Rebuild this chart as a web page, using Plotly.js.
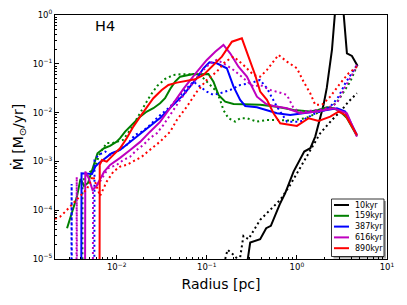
<!DOCTYPE html>
<html><head><meta charset="utf-8">
<script src="https://cdn.plot.ly/plotly-3.0.1.min.js"></script>
<style>html,body{margin:0;padding:0;background:#fff}</style>
</head><body><div id="chart" style="width:407px;height:305px"></div>
<script>
const snapshots = ['10kyr','159kyr','387kyr','616kyr','890kyr'];
const colors = ['#000000','#008000','#0000ff','#bf00bf','#ff0000'];

// 10 kyr
const r_10_solid = [0.27, 0.303, 0.391, 0.456, 0.514, 0.653, 0.742, 0.918, 1.206, 1.41, 1.598, 1.816, 1.977, 2.146, 2.287, 2.449, 2.95, 3.59, 4.08, 4.72];
const mdot_10_solid = [5e-6, 2.17e-5, 2.55e-5, 4.28e-5, 4.77e-5, 1.39e-4, 2.23e-4, 6.18e-4, 1.59e-3, 1.86e-3, 3.22e-3, 8.27e-3, 0.0145, 0.032, 0.0748, 0.192, 13, 0.164, 0.145, 0.0903];
const r_10_dot = [0.155, 0.170, 0.198, 0.231, 0.255, 0.290, 0.391, 0.653, 0.843, 1.185, 1.35, 1.816, 2.45, 3.03, 3.75, 4.64];
const mdot_10_dot = [8e-6, 1.54e-5, 1.22e-5, 9e-6, 2.98e-5, 2.55e-5, 6.33e-5, 1.63e-4, 3.3e-4, 9.5e-4, 1.5e-3, 3.78e-3, 7.07e-3, 0.0105, 0.0168, 0.0249];

// 159 kyr
const r_159_solid = [0.00281, 0.00319, 0.00362, 0.00396, 0.00434, 0.0048, 0.00546, 0.00612, 0.00723, 0.00843, 0.01, 0.0109, 0.0124, 0.0141, 0.0182, 0.0216, 0.0255, 0.0303, 0.0344, 0.0392, 0.0445, 0.0506, 0.06, 0.071, 0.0843, 0.1043, 0.1185, 0.1347, 0.16, 0.198, 0.255, 0.391, 0.6, 0.918, 1.406, 1.726, 2.157, 2.553, 3.03, 3.59, 4.64];
const mdot_159_solid = [4.28e-5, 9.37e-5, 1.9e-4, 4.38e-4, 3.15e-4, 3.62e-4, 7.36e-4, 1.47e-3, 1.86e-3, 2.08e-3, 2.54e-3, 2.99e-3, 4.07e-3, 5.16e-3, 8.27e-3, 0.0105, 0.0123, 0.0156, 0.0197, 0.0305, 0.0431, 0.0545, 0.059, 0.0619, 0.061, 0.0619, 0.0431, 0.023, 0.0168, 0.015, 0.0149, 0.0144, 0.0132, 0.0113, 0.0105, 0.0113, 0.0129, 0.0123, 0.0105, 7.78e-3, 3.33e-3];
const r_159_dot = [0.00415, 0.00417, 0.00456, 0.00506, 0.00575, 0.00653, 0.00775, 0.0091, 0.01175, 0.0141, 0.0164, 0.0191, 0.0234, 0.0281, 0.0344, 0.0426, 0.0506, 0.0653, 0.0775, 0.0918, 0.109, 0.129, 0.1406, 0.153, 0.174, 0.2065, 0.2345, 0.2785, 0.36, 0.465, 0.6, 0.843, 1.238, 1.816, 2.45, 2.90, 3.44, 3.91, 4.64];
const mdot_159_dot = [1e-9, 4.18e-4, 4.59e-4, 6.09e-4, 7.82e-4, 1.49e-3, 2.39e-3, 2.39e-3, 2.75e-3, 4.42e-3, 7.07e-3, 0.0113, 0.0219, 0.0352, 0.0489, 0.059, 0.0608, 0.0608, 0.059, 0.0506, 0.0368, 0.0269, 0.0182, 0.0113, 7.66e-3, 6.53e-3, 7.66e-3, 7.66e-3, 6.53e-3, 7.07e-3, 7.07e-3, 6.84e-3, 7.66e-3, 0.0105, 0.0132, 0.0182, 0.0291, 0.0431, 0.0903];

// 387 kyr
const r_387_solid = [0.0040, 0.00407, 0.00532, 0.00579, 0.00628, 0.00711, 0.00881, 0.0109, 0.0141, 0.0182, 0.0233, 0.0303, 0.0392, 0.055, 0.0775, 0.0918, 0.107, 0.129, 0.1668, 0.198, 0.2345, 0.267, 0.36, 0.6, 0.843, 1.185, 1.74, 2.157, 2.785, 3.44, 3.91, 4.64];
const mdot_387_solid = [1e-9, 5.73e-4, 5.54e-4, 7.82e-4, 9.1e-4, 1.07e-3, 1.47e-3, 1.72e-3, 2.51e-3, 3.66e-3, 5.08e-3, 7.78e-3, 0.0125, 0.023, 0.0506, 0.081, 0.1075, 0.1025, 0.081, 0.034, 0.0182, 0.0137, 0.0129, 9.7e-3, 8.96e-3, 9.7e-3, 0.0105, 0.0113, 0.0123, 0.0105, 6.53e-3, 3.49e-3];
const r_387_dot = [0.00311, 0.00316, 0.0032, 0.0056, 0.00567, 0.0063, 0.00748, 0.00843, 0.01, 0.0129, 0.016, 0.019, 0.0225, 0.029, 0.0392, 0.055, 0.071, 0.0843, 0.1, 0.1185, 0.1406, 0.1817, 0.2345, 0.303, 0.391, 0.465, 0.6, 0.775, 1.089, 1.598, 2.064, 2.45, 2.90, 3.44, 4.09, 4.64];
const mdot_387_dot = [1e-9, 3.46e-4, 1e-9, 1e-9, 1.07e-3, 1.36e-3, 1.59e-3, 1.36e-3, 1.59e-3, 2.18e-3, 3.49e-3, 4.07e-3, 5.16e-3, 8.27e-3, 0.0132, 0.0269, 0.0431, 0.034, 0.0269, 0.023, 0.0249, 0.0291, 0.0368, 0.0399, 0.0467, 0.0315, 0.0132, 6.53e-3, 6.53e-3, 9.7e-3, 0.0113, 0.0144, 0.0212, 0.0399, 0.064, 0.0946];

// 616 kyr
const r_616_solid = [0.0044, 0.00448, 0.00489, 0.00539, 0.00597, 0.00653, 0.00723, 0.00843, 0.0109, 0.0141, 0.0182, 0.0233, 0.0303, 0.0392, 0.055, 0.0775, 0.1, 0.124, 0.153, 0.1817, 0.2245, 0.2785, 0.36, 0.456, 0.55, 0.775, 1.089, 1.67, 2.553, 3.59, 4.64];
const mdot_616_solid = [1e-9, 6.18e-4, 4.53e-4, 2.61e-4, 3.15e-4, 4.18e-4, 6.09e-4, 8.48e-4, 1.18e-3, 1.72e-3, 2.51e-3, 4.02e-3, 6.44e-3, 0.0125, 0.0305, 0.068, 0.12, 0.177, 0.243, 0.164, 0.0873, 0.0545, 0.0212, 0.015, 0.0137, 0.0123, 9.7e-3, 0.0105, 0.0123, 9.7e-3, 3.22e-3];
const r_616_dot = [0.00354, 0.0036, 0.00366, 0.0054, 0.00546, 0.00653, 0.00807, 0.01, 0.01186, 0.0141, 0.01668, 0.0198, 0.0233, 0.0279, 0.033, 0.0392, 0.0506, 0.0653, 0.0843, 0.109, 0.129, 0.153, 0.198, 0.255, 0.33, 0.391, 0.506, 0.653, 0.775, 0.918, 1.089, 1.67, 2.157, 2.785, 3.44, 4.09, 4.64];
const mdot_616_dot = [1e-9, 4.81e-4, 1e-9, 1e-9, 2.61e-4, 3.86e-4, 7.26e-4, 8.48e-4, 1.07e-3, 1.25e-3, 1.72e-3, 2.18e-3, 2.99e-3, 3.78e-3, 5.59e-3, 8.96e-3, 0.0182, 0.034, 0.064, 0.1025, 0.12, 0.1025, 0.0748, 0.0506, 0.034, 0.0368, 0.0291, 0.0256, 0.023, 0.0123, 0.0103, 0.0113, 0.0123, 0.0156, 0.034, 0.059, 0.0946];

// 890 kyr
const r_890_solid = [0.0064, 0.00648, 0.00687, 0.00775, 0.00918, 0.0109, 0.0129, 0.0153, 0.0182, 0.0216, 0.0255, 0.0316, 0.0375, 0.0465, 0.06, 0.0742, 0.0918, 0.1138, 0.147, 0.19, 0.245, 0.290, 0.344, 0.391, 0.465, 0.55, 0.653, 1.0, 1.35, 1.74, 2.345, 2.90, 3.44, 4.64];
const mdot_890_solid = [1e-9, 8.48e-4, 1.07e-3, 9.9e-4, 1.36e-3, 1.86e-3, 2.99e-3, 5.16e-3, 8.27e-3, 0.0132, 0.0197, 0.0291, 0.0368, 0.0411, 0.0445, 0.0482, 0.059, 0.0873, 0.14, 0.284, 0.333, 0.14, 0.059, 0.0269, 0.0182, 9.7e-3, 6.05e-3, 5.33e-3, 7.66e-3, 6.75e-3, 8.27e-3, 0.0105, 8.96e-3, 3.49e-3];
const r_890_dot = [0.00207, 0.00236, 0.00269, 0.00305, 0.00353, 0.00412, 0.00468, 0.00509, 0.00546, 0.00653, 0.00775, 0.00918, 0.0109, 0.0129, 0.0153, 0.019, 0.0233, 0.0303, 0.0392, 0.0465, 0.06, 0.0775, 0.1, 0.129, 0.16, 0.198, 0.255, 0.33, 0.391, 0.465, 0.625, 0.775, 1.0, 1.185, 1.406, 1.598, 1.897, 2.345, 3.03, 3.75, 4.64];
const mdot_890_dot = [6.64e-5, 7.4e-5, 9.37e-5, 1.19e-4, 1.55e-4, 2.06e-4, 2.73e-4, 3.8e-4, 5.04e-4, 1.96e-4, 3.86e-4, 6.18e-4, 7.82e-4, 8.48e-4, 9.9e-4, 1.25e-3, 1.72e-3, 2.54e-3, 4.07e-3, 7.07e-3, 0.0132, 0.0269, 0.0467, 0.069, 0.1106, 0.14, 0.0946, 0.059, 0.0545, 0.0748, 0.152, 0.1106, 0.081, 0.0431, 0.0249, 0.0144, 0.0144, 0.0212, 0.0399, 0.064, 0.0873];

const xTickVals = [0.01, 0.1, 1, 10];
const xTickText = ['10<sup>\u22122</sup>', '10<sup>\u22121</sup>', '10<sup>0</sup>', '10<sup>1</sup>'];
const yTickVals = [1e-5, 1e-4, 1e-3, 1e-2, 1e-1, 1];
const yTickText = ['10<sup>\u22125</sup>', '10<sup>\u22124</sup>', '10<sup>\u22123</sup>', '10<sup>\u22122</sup>', '10<sup>\u22121</sup>', '10<sup>0</sup>'];
const panelLabel = 'H4';

const series = [
  [r_10_solid, mdot_10_solid, r_10_dot, mdot_10_dot],
  [r_159_solid, mdot_159_solid, r_159_dot, mdot_159_dot],
  [r_387_solid, mdot_387_solid, r_387_dot, mdot_387_dot],
  [r_616_solid, mdot_616_solid, r_616_dot, mdot_616_dot],
  [r_890_solid, mdot_890_solid, r_890_dot, mdot_890_dot]
];

const traces = [];
series.forEach((s, i) => {
  traces.push({x: s[0], y: s[1], type: 'scatter', mode: 'lines', name: snapshots[i],
    line: {color: colors[i], width: 2}, showlegend: false, hoverinfo: 'skip'});
  traces.push({x: s[2], y: s[3], type: 'scatter', mode: 'lines', name: snapshots[i] + ' dotted',
    line: {color: colors[i], width: 2, dash: '2px,3px'}, showlegend: false, hoverinfo: 'skip'});
});

function minorVals(lo, hi) {
  const out = [];
  for (let e = lo; e < hi; e++) for (let k = 2; k <= 9; k++) out.push(k * Math.pow(10, e));
  return out;
}

// plot area in pixels
const L = 55, R = 20, T = 15, B = 46, W = 407, H = 305;
const pw = W - L - R, ph = H - T - B;
const px = p => (p - L) / pw;
const py = p => (H - B - p) / ph;

const shapes = [], annotations = [];
shapes.push({type: 'rect', xref: 'paper', yref: 'paper', x0: px(333.5), x1: px(386), y0: py(201), y1: py(258.5),
  fillcolor: 'rgba(0,0,0,0.35)', line: {width: 0}});
shapes.push({type: 'rect', xref: 'paper', yref: 'paper', x0: px(331.5), x1: px(384), y0: py(199), y1: py(256.5),
  fillcolor: '#ffffff', line: {color: '#000000', width: 0.8}});
snapshots.forEach((lab, i) => {
  const yy = 205 + 10.8 * i;
  shapes.push({type: 'line', xref: 'paper', yref: 'paper', x0: px(334), x1: px(349), y0: py(yy), y1: py(yy),
    line: {color: colors[i], width: 2}});
  annotations.push({xref: 'paper', yref: 'paper', x: px(352.5), y: py(yy), xanchor: 'left', yanchor: 'middle',
    text: lab, showarrow: false, font: {family: 'DejaVu Sans', size: 8, color: '#000'}});
});
annotations.push({xref: 'paper', yref: 'paper', x: px(105), y: py(26), xanchor: 'center', yanchor: 'middle',
  text: panelLabel, showarrow: false, font: {family: 'DejaVu Sans', size: 14.5, color: '#000'}});

const axisCommon = {
  type: 'log', showline: true, mirror: true, linecolor: '#000', linewidth: 1,
  ticks: 'inside', ticklen: 4, tickwidth: 1, tickcolor: '#000',
  showgrid: false, zeroline: false, tickmode: 'array',
  tickfont: {family: 'DejaVu Sans', size: 8.5, color: '#000'}
};

const layout = {
  width: W, height: H,
  margin: {l: L, r: R, t: T, b: B},
  paper_bgcolor: '#fff', plot_bgcolor: '#fff',
  showlegend: false,
  font: {family: 'DejaVu Sans', color: '#000'},
  xaxis: Object.assign({}, axisCommon, {
    range: [-2.685, 1], tickvals: xTickVals, ticktext: xTickText,
    minor: {ticks: 'inside', ticklen: 2, tickwidth: 1, tickcolor: '#000', tickmode: 'array', tickvals: minorVals(-3, 1)},
    title: {text: 'Radius [pc]', font: {family: 'DejaVu Sans', size: 14, color: '#000'}, standoff: 7}
  }),
  yaxis: Object.assign({}, axisCommon, {
    range: [-5, 0], tickvals: yTickVals, ticktext: yTickText,
    minor: {ticks: 'inside', ticklen: 2, tickwidth: 1, tickcolor: '#000', tickmode: 'array', tickvals: minorVals(-5, 0)},
    title: {text: '\u1E40 [M<sub>\u2299</sub>/yr]', font: {family: 'DejaVu Sans', size: 14, color: '#000'}, standoff: 5}
  }),
  shapes: shapes, annotations: annotations
};

Plotly.newPlot('chart', traces, layout, {staticPlot: true, displayModeBar: false});
</script>
</body></html>
